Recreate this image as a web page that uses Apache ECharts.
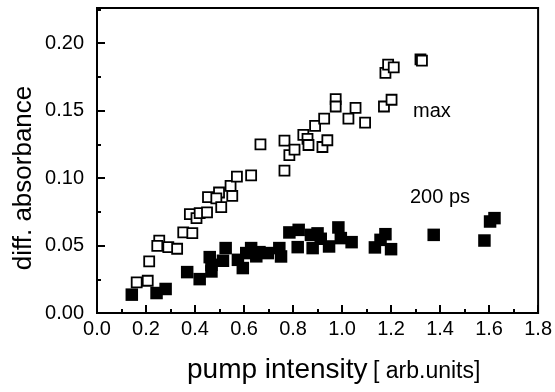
<!DOCTYPE html>
<html>
<head>
<meta charset="utf-8">
<script src="https://cdn.jsdelivr.net/npm/echarts@6/dist/echarts.min.js"></script>
<style>
html,body{margin:0;padding:0;background:#fff;}
#chart{width:555px;height:392px;}
</style>
</head>
<body>
<div id="chart"></div>
<script>
// ---- data ----
const maxX = [0.162,0.207,0.213,0.254,0.246,0.291,0.327,0.352,0.389,0.379,0.406,0.419,0.449,0.453,0.498,0.487,0.507,0.552,0.545,0.571,0.629,0.667,0.765,0.765,0.785,0.806,0.842,0.859,0.863,0.890,0.920,0.940,0.927,0.974,0.974,1.026,1.055,1.094,1.171,1.202,1.177,1.188,1.211,1.320,1.326];
const maxY = [0.0227,0.0239,0.0382,0.0537,0.0498,0.0488,0.0476,0.0597,0.0592,0.0732,0.0703,0.0740,0.0745,0.0858,0.0893,0.0850,0.0785,0.0868,0.0942,0.1010,0.1020,0.1250,0.1055,0.1277,0.1170,0.1210,0.1320,0.1290,0.1245,0.1386,0.1230,0.1280,0.1440,0.1585,0.1530,0.1440,0.1520,0.1410,0.1530,0.1580,0.1780,0.1840,0.1820,0.1880,0.1870];

const psX = [0.142,0.243,0.280,0.368,0.419,0.460,0.467,0.467,0.514,0.525,0.575,0.595,0.609,0.629,0.650,0.663,0.697,0.744,0.751,0.785,0.823,0.819,0.873,0.880,0.900,0.913,0.947,0.985,0.995,1.039,1.134,1.157,1.177,1.200,1.374,1.581,1.604,1.622];
const psY = [0.0136,0.0148,0.0178,0.0303,0.0251,0.0414,0.0357,0.0308,0.0387,0.0481,0.0394,0.0333,0.0444,0.0481,0.0420,0.0451,0.0444,0.0481,0.0419,0.0597,0.0616,0.0488,0.0579,0.0481,0.0590,0.0550,0.0493,0.0634,0.0555,0.0525,0.0486,0.0542,0.0584,0.0473,0.0579,0.0537,0.0678,0.0703];

const xTitle = 'pump intensity';
const xUnit = '[ arb.units]';
const yTitle = 'diff. absorbance';
const maxLabel = 'max';
const psLabel = '200 ps';

// ---- chart ----
const FONT = '"Liberation Sans", Arial, Helvetica, sans-serif';
const maxData = maxX.map((x, i) => [x, maxY[i]]);
const psData = psX.map((x, i) => [x, psY[i]]);

const chart = echarts.init(document.getElementById('chart'), null, {renderer: 'canvas'});
chart.setOption({
  animation: false,
  backgroundColor: '#fff',
  grid: {left: 97, right: 15, top: 8, bottom: 79, show: true, borderColor: '#000', borderWidth: 2},
  xAxis: {
    type: 'value', min: 0, max: 1.8, interval: 0.2,
    axisLine: {onZero: false, lineStyle: {color: '#000', width: 2}},
    axisTick: {inside: true, length: 8, lineStyle: {color: '#000', width: 2}},
    minorTick: {show: true, splitNumber: 2, length: 4, lineStyle: {color: '#000', width: 2}},
    splitLine: {show: false},
    axisLabel: {color: '#000', fontFamily: FONT, fontSize: 20, margin: 6,
      formatter: v => v.toFixed(1)}
  },
  yAxis: [{
    type: 'value', min: 0, max: 0.226, interval: 0.05,
    axisLine: {onZero: false, lineStyle: {color: '#000', width: 2}},
    axisTick: {inside: true, length: 8, lineStyle: {color: '#000', width: 2}},
    splitLine: {show: false},
    axisLabel: {color: '#000', fontFamily: FONT, fontSize: 20, margin: 13, showMaxLabel: false,
      formatter: v => (Math.abs(v / 0.05 - Math.round(v / 0.05)) < 1e-6) ? v.toFixed(2) : ''}
  }, {
    type: 'value', min: 0, max: 0.226, interval: 0.025, position: 'left',
    axisLine: {show: false},
    axisTick: {inside: true, length: 4, lineStyle: {color: '#000', width: 2}},
    splitLine: {show: false},
    axisLabel: {show: false}
  }],
  series: [{
    name: 'max', type: 'scatter', yAxisIndex: 0, data: maxData,
    symbol: 'rect', symbolSize: 10,
    itemStyle: {color: '#fff', borderColor: '#000', borderWidth: 1.8, opacity: 1}
  }, {
    name: '200 ps', type: 'scatter', yAxisIndex: 0, data: psData,
    symbol: 'rect', symbolSize: 12.5,
    itemStyle: {color: '#000', opacity: 1}
  }],
  graphic: [
    {type: 'text', left: 413, top: 101, style: {text: maxLabel, font: '20px ' + FONT, fill: '#000'}},
    {type: 'text', left: 410, top: 187, style: {text: psLabel, font: '20px ' + FONT, fill: '#000'}},
    {type: 'text', left: 187, top: 356, style: {text: xTitle, font: '28px ' + FONT, fill: '#000'}},
    {type: 'text', left: 373, top: 360, style: {text: xUnit, font: '23px ' + FONT, fill: '#000'}},
    {type: 'text', x: 24, y: 178, rotation: Math.PI / 2,
      style: {text: yTitle, font: '26px ' + FONT, fill: '#000', align: 'center', verticalAlign: 'middle'}}
  ]
});
</script>
</body>
</html>
